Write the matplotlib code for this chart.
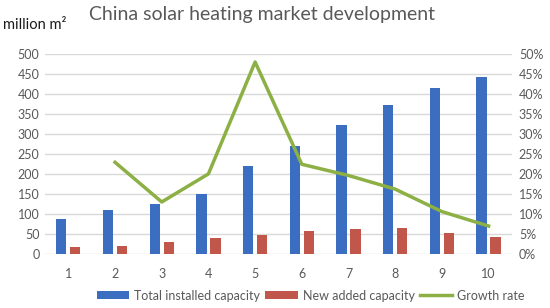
"""China solar heating market development chart."""

import matplotlib
import numpy as np
from matplotlib import pyplot as plt
from matplotlib.ticker import FuncFormatter

matplotlib.use("Agg")

categories = ["1", "2", "3", "4", "5", "6", "7", "8", "9", "10"]
total_capacity = [88, 109, 124, 150, 220, 269, 321, 373, 413, 442]
new_capacity = [17, 21, 31, 40, 48, 57, 62, 64, 52, 42]
growth_rate = [np.nan, 22.9, 13.0, 20.0, 47.9, 22.4, 19.6, 16.2, 10.6, 7.0]

BLUE = "#3B6DC1"
RED = "#C0574A"
GREEN = "#8DB045"
GRID = "#D9D9D9"
TEXT = "#595959"


def _main() -> None:
    plt.rcParams["font.family"] = ["Lato", "DejaVu Sans"]
    fig = plt.figure(figsize=(5.5, 3.08), dpi=100)
    ax = fig.add_axes([0.0818, 0.175, 0.849, 0.651])
    x = np.arange(len(categories))
    width = 0.22
    ax.bar(x - 0.15, total_capacity, width, color=BLUE, zorder=3,
           label="Total installed capacity")
    ax.bar(x + 0.15, new_capacity, width, color=RED, zorder=3,
           label="New added capacity")
    ax.set_xlim(-0.5, len(categories) - 0.5)
    ax.set_ylim(0, 500)
    ax.set_yticks(range(0, 501, 50))
    ax.set_xticks(x)
    ax.set_xticklabels(categories)
    ax.grid(axis="y", color=GRID, linewidth=1, zorder=0)
    for s in ax.spines.values():
        s.set_visible(False)
    ax.tick_params(axis="both", length=0, colors=TEXT, labelsize=9)
    ax.tick_params(axis="x", pad=10)
    ax.tick_params(axis="y", pad=4)

    ax2 = ax.twinx()
    ax2.plot(x, growth_rate, color=GREEN, linewidth=2.5, zorder=4,
             label="Growth rate")
    ax2.set_ylim(0, 50)
    ax2.set_yticks(range(0, 51, 5))
    ax2.yaxis.set_major_formatter(FuncFormatter(lambda v, _: f"{v:.0f}%"))
    for s in ax2.spines.values():
        s.set_visible(False)
    ax2.tick_params(axis="y", length=0, colors=TEXT, labelsize=9, pad=5)

    fig.text(0.476, 0.953, "China solar heating market development",
             ha="center", va="center", fontsize=14, color=TEXT)
    fig.text(0.006, 0.918, "million m\u00b2", ha="left", va="center",
             fontsize=10.5, color="#1a1a1a")

    h1, l1 = ax.get_legend_handles_labels()
    h2, l2 = ax2.get_legend_handles_labels()
    fig.legend(h1 + h2, l1 + l2, loc="center", bbox_to_anchor=(0.565, 0.04),
               ncol=3, frameon=False, fontsize=9, labelcolor=TEXT,
               handlelength=2.6, handleheight=0.6, handletextpad=0.4,
               columnspacing=0.4)
    fig.savefig("out.png", dpi=100)


if __name__ == "__main__":
    _main()
